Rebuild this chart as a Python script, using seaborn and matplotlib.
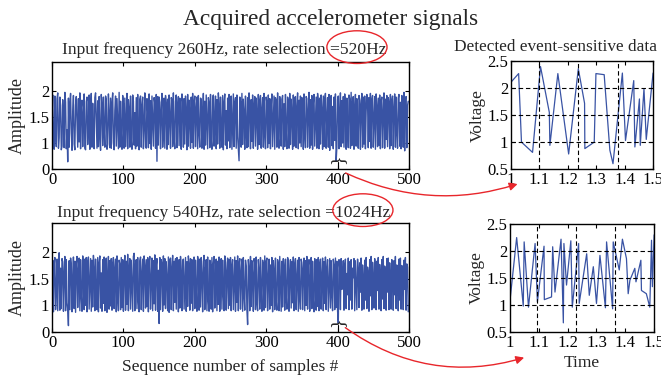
import numpy as np
import pandas as pd
import seaborn as sns
import matplotlib.pyplot as plt
from matplotlib.patches import Ellipse, FancyArrowPatch

# acquired signal, rate 520Hz (amplitude in hundredths)
sig_top = [
    150, 192, 95, 88, 190, 120, 93, 185, 196, 90, 110, 188, 172, 87, 94, 183, 150, 91, 197, 178, 89, 125, 64, 186, 92,
    176, 195, 118, 86, 160, 191, 98, 87, 173, 189, 140, 92, 185, 102, 196, 89, 168, 182, 93, 150, 194, 90, 87, 179, 188,
    97, 130, 192, 88, 165, 195, 92, 176, 104, 89, 187, 196, 145, 90, 181, 93, 189, 110, 86, 193, 171, 95, 188, 128, 92,
    190, 183, 88, 98, 194, 155, 91, 186, 90, 178, 196, 100, 87, 162, 190, 94, 185, 137, 89, 197, 92, 180, 120, 88, 191,
    175, 90, 186, 93, 140, 195, 89, 183, 167, 92, 190, 105, 88, 192, 180, 96, 158, 89, 187, 94, 193, 115, 87, 184, 190,
    92, 172, 188, 89, 135, 196, 93, 90, 185, 160, 91, 194, 99, 181, 88, 190, 142, 94, 187, 176, 90, 193, 65, 189, 96,
    188, 178, 89, 160, 195, 92, 118, 186, 90, 191, 174, 88, 184, 97, 192, 150, 90, 187, 183, 93, 196, 108, 89, 180, 192,
    91, 170, 189, 95, 186, 132, 88, 194, 179, 92, 185, 98, 190, 162, 87, 193, 94, 182, 146, 90, 188, 101, 195, 90, 176,
    190, 93, 165, 188, 89, 191, 120, 92, 186, 184, 90, 157, 195, 88, 180, 96, 192, 140, 89, 187, 177, 91, 193, 106, 88,
    185, 192, 94, 150, 190, 89, 183, 98, 196, 171, 90, 188, 124, 92, 191, 87, 178, 194, 96, 162, 89, 186, 104, 193, 91,
    181, 190, 88, 145, 194, 93, 176, 187, 90, 192, 112, 89, 66, 188, 179, 92, 195, 97, 184, 160, 88, 190, 130, 91, 187,
    93, 196, 174, 89, 183, 103, 192, 90, 168, 189, 94, 186, 150, 88, 193, 97, 180, 191, 90, 164, 187, 92, 195, 118, 89,
    188, 176, 91, 192, 99, 185, 89, 170, 194, 93, 142, 190, 88, 187, 182, 92, 196, 108, 90, 189, 160, 94, 184, 191, 88,
    175, 93, 193, 126, 89, 188, 181, 90, 195, 97, 184, 152, 88, 192, 94, 186, 189, 91, 167, 196, 89, 182, 100, 190, 93,
    187, 170, 88, 194, 115, 91, 189, 185, 92, 158, 197, 90, 183, 96, 191, 88, 176, 193, 94, 138, 188, 90, 195, 179, 89,
    186, 98, 192, 163, 88, 190, 93, 184, 195, 90, 148, 187, 92, 193, 86, 180, 191, 95, 170, 89, 188, 105, 194, 66, 92,
    183, 190, 89, 157, 196, 93, 181, 100, 189, 92, 194, 172, 88, 186, 128, 91, 192, 184, 90, 197, 95, 178, 189, 88, 166,
    193, 94, 185, 112, 90, 191, 182, 88, 174, 195, 92, 188, 98, 190, 89, 160, 193, 180, 91, 187, 103, 195, 90, 183, 191,
    92, 146, 189, 88, 194, 170, 93, 186, 96, 192, 89, 179, 188, 91, 155, 196, 90, 184, 107, 191, 93, 187, 176, 89, 193,
    95, 182, 190, 88, 165, 194, 92, 188, 120, 90, 186, 193, 94, 178, 89, 191, 150, 92, 197, 85, 184, 189, 91, 172, 180,
]

# acquired signal, rate 1024Hz (amplitude in hundredths)
sig_bot = [
    140, 185, 88, 176, 190, 92, 130, 187, 90, 183, 199, 91, 170, 94, 188, 182, 89, 160, 192, 90, 186, 105, 93, 62, 184,
    92, 189, 176, 88, 150, 191, 94, 183, 87, 178, 192, 96, 165, 189, 90, 186, 118, 89, 193, 174, 92, 187, 100, 190, 88,
    181, 191, 93, 142, 188, 89, 185, 97, 194, 170, 90, 187, 126, 92, 190, 88, 180, 193, 95, 161, 89, 186, 104, 191, 90,
    179, 189, 87, 153, 192, 93, 184, 99, 188, 91, 176, 190, 94, 168, 187, 88, 193, 112, 90, 185, 178, 92, 190, 96, 186,
    89, 172, 194, 91, 183, 102, 196, 90, 164, 188, 93, 185, 140, 89, 192, 198, 90, 177, 186, 94, 190, 108, 88, 184, 191,
    92, 158, 187, 89, 193, 174, 95, 186, 98, 190, 88, 181, 192, 93, 147, 189, 90, 184, 103, 195, 91, 175, 188, 89, 166,
    66, 190, 92, 186, 177, 89, 193, 101, 188, 94, 182, 150, 90, 191, 87, 185, 189, 92, 170, 194, 90, 183, 106, 188, 93,
    190, 174, 88, 186, 95, 192, 160, 90, 184, 187, 93, 145, 190, 89, 182, 98, 193, 176, 91, 188, 104, 186, 90, 172, 191,
    94, 185, 130, 89, 192, 180, 91, 187, 97, 190, 155, 88, 183, 194, 92, 168, 186, 90, 191, 110, 89, 185, 176, 93, 190,
    88, 178, 192, 95, 150, 187, 90, 183, 102, 191, 89, 170, 188, 93, 185, 124, 90, 193, 181, 91, 162, 189, 94, 186, 100,
    190, 90, 175, 186, 92, 140, 191, 89, 184, 106, 193, 90, 178, 188, 93, 160, 187, 89, 190, 118, 91, 185, 174, 92, 64,
    186, 170, 90, 192, 98, 184, 155, 89, 188, 180, 92, 191, 104, 90, 186, 168, 93, 190, 130, 89, 185, 177, 91, 193, 96,
    183, 189, 90, 150, 187, 93, 176, 100, 190, 88, 184, 165, 92, 189, 110, 91, 186, 178, 90, 192, 140, 89, 183, 97, 188,
    172, 91, 187, 120, 93, 190, 184, 89, 160, 186, 95, 182, 105, 191, 90, 176, 188, 92, 150, 185, 89, 190, 115, 93, 187,
    180, 92, 168, 189, 90, 184, 100, 192, 93, 175, 186, 89, 145, 190, 94, 183, 110, 88, 188, 172, 91, 186, 98, 190, 90,
    178, 187, 93, 155, 189, 90, 182, 104, 191, 92, 170, 186, 89, 140, 188, 95, 184, 120, 90, 187, 176, 92, 189, 96, 183,
    90, 66, 186, 170, 92, 188, 130, 150, 184, 91, 175, 187, 94, 160, 120, 189, 92, 182, 110, 186, 93, 170, 152, 188, 90,
    184, 135, 92, 187, 165, 96, 180, 125, 189, 91, 176, 148, 93, 185, 110, 190, 94, 172, 160, 89, 186, 118, 192, 92, 181,
    150, 95, 188, 170, 92, 183, 128, 190, 93, 177, 155, 90, 186, 112, 192, 94, 174, 165, 91, 188, 125, 189, 92, 180, 150,
    93, 186, 168, 91, 184, 120, 192, 94, 176, 158, 90, 187, 110, 189, 93, 175, 162, 92, 185, 130, 190, 91, 178, 172, 88,
]

# detected event-sensitive segments
t_top = [1.000, 1.027, 1.037, 1.076, 1.104, 1.135, 1.137, 1.165, 1.203, 1.237, 1.259, 1.260, 1.293,
         1.299, 1.328, 1.348, 1.359, 1.392, 1.403, 1.432, 1.436, 1.452, 1.455, 1.468, 1.476, 1.500]
v_top = [2.11, 2.27, 1.00, 0.81, 2.40, 1.55, 0.94, 2.27, 0.78, 2.36, 1.72, 0.88, 1.00,
         2.27, 2.25, 0.85, 0.60, 2.28, 1.03, 2.14, 0.91, 1.80, 0.94, 1.99, 1.05, 2.28]
t_bot = [1.000, 1.023, 1.046, 1.049, 1.064, 1.087, 1.095, 1.118, 1.119, 1.144, 1.148, 1.156, 1.177,
         1.185, 1.187, 1.196, 1.211, 1.216, 1.238, 1.240, 1.266, 1.275, 1.289, 1.300, 1.312, 1.331,
         1.335, 1.356, 1.358, 1.379, 1.390, 1.404, 1.410, 1.416, 1.433, 1.437, 1.454, 1.456, 1.473,
         1.485, 1.491, 1.494, 1.500]
v_bot = [1.09, 2.25, 0.98, 2.17, 0.96, 2.14, 1.06, 2.09, 1.10, 1.15, 2.08, 1.24, 2.22,
         0.67, 2.14, 1.37, 2.19, 0.96, 2.14, 1.03, 1.95, 1.18, 1.71, 1.03, 1.92, 0.95,
         2.17, 0.93, 2.17, 1.65, 2.22, 1.86, 1.21, 1.46, 1.68, 1.43, 1.83, 1.27, 1.21,
         0.96, 2.20, 1.34, 2.30]
vlines_top = [1.0995, 1.2365, 1.376]
vlines_bot = [1.095, 1.229, 1.364]

titles = ['Input frequency 260Hz, rate selection =520Hz',
          'Input frequency 540Hz, rate selection =1024Hz']

sns.set_style('ticks')
plt.rcParams['font.family'] = ['Liberation Serif', 'DejaVu Serif']

BLUE = '#3953a4'
RED = '#e8262b'

fig = plt.figure(figsize=(6.61, 3.80), dpi=100)


def style_ax(ax):
    for s in ax.spines.values():
        s.set_color('black')
        s.set_linewidth(1.0)
    ax.tick_params(direction='in', top=True, right=True, length=3,
                   labelsize=12, colors='black', pad=2)


left_axes = [fig.add_axes([0.0787, 0.555, 0.540, 0.2816]),
             fig.add_axes([0.0787, 0.1263, 0.540, 0.287])]
for ax, sig, title, pad in zip(left_axes, [sig_top, sig_bot], titles, [6, 4]):
    df = pd.DataFrame({'n': np.arange(len(sig)), 'amp': np.array(sig) / 100})
    sns.lineplot(data=df, x='n', y='amp', ax=ax, color=BLUE, linewidth=1.0)
    ax.set_xlim(0, 500)
    ax.set_ylim(0.5, 2.55)
    ax.set_xticks([0, 100, 200, 300, 400, 500])
    ax.set_yticks([0.5, 1, 1.5, 2])
    ax.set_yticklabels(['0', '1', '1.5', '2'])
    ax.set_ylabel('Amplitude', fontsize=13, labelpad=2)
    ax.set_xlabel('')
    ax.set_title(title, fontsize=12.6, pad=pad, x=0.482)
    style_ax(ax)
    # brace marking the detected segment
    ax.text(400, 0.68, '}', rotation=90, ha='center', va='center', fontsize=14)
    ax.plot([400, 400], [0.5, 0.64], color='black', lw=0.8)
left_axes[1].set_xlabel('Sequence number of samples #', fontsize=12.5, labelpad=6)

right_axes = [fig.add_axes([0.773, 0.555, 0.215, 0.284]),
              fig.add_axes([0.7716, 0.1263, 0.218, 0.284])]
for ax, t, v, vl in zip(right_axes, [t_top, t_bot], [v_top, v_bot], [vlines_top, vlines_bot]):
    df = pd.DataFrame({'t': t, 'v': v})
    sns.lineplot(data=df, x='t', y='v', ax=ax, color=BLUE, linewidth=0.9,
                 sort=False, estimator=None)
    for y in [1, 1.5, 2]:
        ax.axhline(y, color='black', ls=(0, (4, 2.5)), lw=0.8)
    for x in vl:
        ax.axvline(x, color='black', ls=(0, (4, 2.5)), lw=0.8)
    ax.set_xlim(1, 1.5)
    ax.set_ylim(0.5, 2.5)
    ax.set_xticks([1, 1.1, 1.2, 1.3, 1.4, 1.5])
    ax.set_xticklabels(['1', '1.1', '1.2', '1.3', '1.4', '1.5'])
    ax.set_yticks([0.5, 1, 1.5, 2, 2.5])
    ax.set_yticklabels(['0.5', '1', '1.5', '2', '2.5'])
    ax.set_ylabel('Voltage', fontsize=12.5, labelpad=1)
    ax.set_xlabel('')
    style_ax(ax)
right_axes[0].set_title('Detected event-sensitive data', fontsize=12.4, pad=7, x=0.31)
right_axes[1].set_xlabel('Time', fontsize=12.5, labelpad=3)

fig.text(0.5, 0.948, 'Acquired accelerometer signals', ha='center', va='center', fontsize=16.8)

# red highlights
for cx, cy in [(0.540, 0.876), (0.549, 0.447)]:
    fig.add_artist(Ellipse((cx, cy), 0.091, 0.086, transform=fig.transFigure,
                           fill=False, edgecolor=RED, lw=1.0))
for a, b, rad in [((0.519, 0.548), (0.787, 0.518), 0.2),
                  ((0.519, 0.142), (0.797, 0.061), 0.25)]:
    fig.add_artist(FancyArrowPatch(a, b, transform=fig.transFigure,
                                   connectionstyle=f'arc3,rad={rad}',
                                   arrowstyle='-|>', mutation_scale=12,
                                   color=RED, lw=1.0))

fig.savefig('out.png', dpi=100)
